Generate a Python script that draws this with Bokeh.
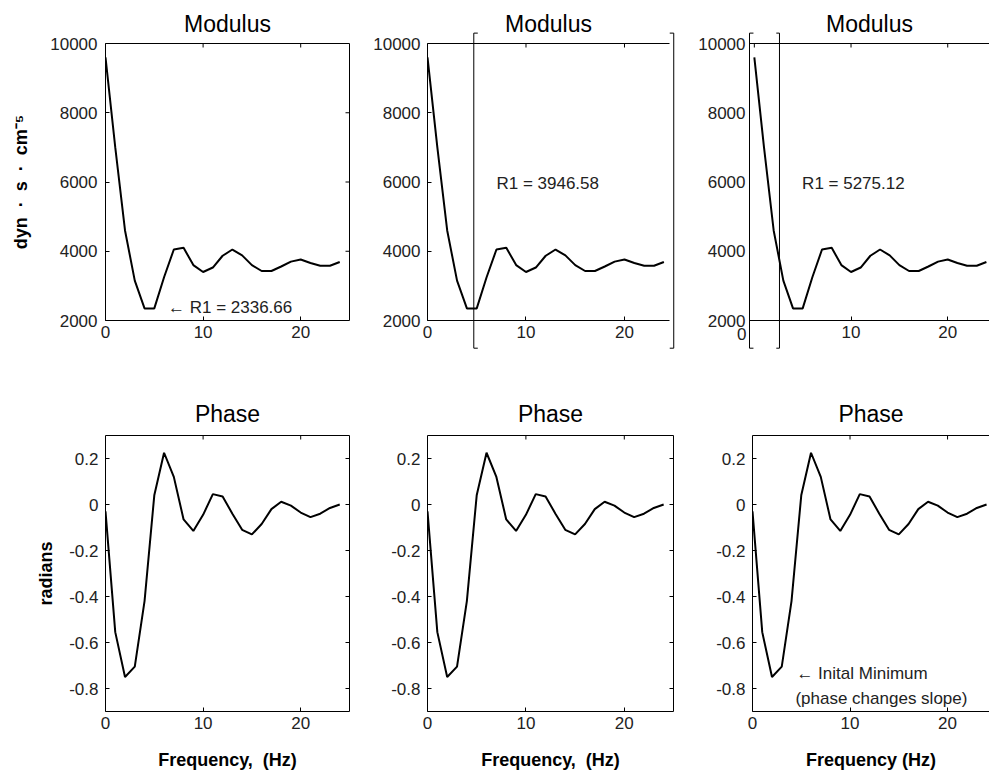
from bokeh.plotting import figure
from bokeh.layouts import column, row
from bokeh.models import LinearAxis, Range1d, FixedTicker
from bokeh.core.properties import value
from bokeh.embed import file_html
from bokeh.resources import INLINE

# ---------------- data ----------------
freq = [0, 1, 2, 3, 4, 5, 6, 7, 8, 9, 10, 11, 12, 13, 14, 15, 16, 17, 18, 19, 20, 21, 22, 23, 24]
modulus = [9600, 7000, 4600, 3150, 2350, 2350, 3250, 4050, 4100, 3600, 3400, 3530, 3870, 4050, 3880,
           3600, 3430, 3430, 3560, 3700, 3760, 3660, 3580, 3580, 3690]
phase = [-0.03, -0.555, -0.75, -0.705, -0.42, 0.04, 0.225, 0.12, -0.065, -0.115, -0.045, 0.045, 0.035,
         -0.04, -0.11, -0.13, -0.085, -0.02, 0.012, -0.005, -0.035, -0.055, -0.04, -0.015, 0.0]

mod_ticks = [2000, 4000, 6000, 8000, 10000]
mod_tick_labels = ["2000", "4000", "6000", "8000", "10000"]
phase_ticks = [-0.8, -0.6, -0.4, -0.2, 0, 0.2]
phase_tick_labels = ["-0.8", "-0.6", "-0.4", "-0.2", "0", "0.2"]
freq_ticks = [0, 10, 20]
freq_tick_labels = ["0", "10", "20"]

r1_labels = ["\u2190 R1 = 2336.66", "R1 = 3946.58", "R1 = 5275.12"]
mid_window = [4.7, 25.0]      # bracketed frequency window, middle panel
right_window = [-0.5, 2.6]    # bracketed frequency window, right panel
window_extent = [1200, 10300]  # vertical extent of the window brackets

NB = "\u00a0"
FONT = "Liberation Sans"
TICK_PX = 4


def style_axis(ax, ticks, labels, tick_in, standoff):
    ax.ticker = FixedTicker(ticks=ticks)
    ax.major_label_overrides = {t: l for t, l in zip(ticks, labels)}
    ax.minor_tick_line_color = None
    ax.major_tick_in = tick_in
    ax.major_tick_out = 0
    ax.axis_line_color = "black"
    ax.major_tick_line_color = "black"
    ax.major_label_text_font = FONT
    ax.major_label_text_color = "#222222"
    ax.major_label_text_font_size = "17px"
    ax.major_label_standoff = standoff
    ax.axis_label_text_font = FONT
    ax.axis_label_text_font_size = "18px"
    ax.axis_label_text_font_style = "bold"
    ax.axis_label_text_color = "black"


def make_panel(width, height, borders, xr, yr, yticks, ylabels, title,
               top=True, right=True, left_ticks=True, xticks=None, xlabels=None,
               ystandoff=6, title_standoff=14):
    lb, rb, tb, bb = borders
    p = figure(width=width, height=height, x_range=Range1d(*xr), y_range=Range1d(*yr),
               output_backend="svg", toolbar_location=None,
               x_axis_location=None, y_axis_location=None,
               min_border_left=lb, min_border_right=rb, min_border_top=tb, min_border_bottom=bb)
    p.outline_line_color = None
    p.grid.visible = False
    p.background_fill_color = "white"
    p.border_fill_color = "white"
    p.title.text = title
    p.title.align = "center"
    p.title.text_font = FONT
    p.title.text_font_size = "23px"
    p.title.text_font_style = "normal"
    p.title.text_color = "black"
    p.title.standoff = title_standoff

    xt = xticks if xticks is not None else freq_ticks
    xl = xlabels if xlabels is not None else freq_tick_labels

    bottom = LinearAxis()
    style_axis(bottom, xt, xl, TICK_PX, 5)
    p.add_layout(bottom, "below")
    leftax = LinearAxis()
    style_axis(leftax, yticks, ylabels, TICK_PX if left_ticks else 0, ystandoff)
    p.add_layout(leftax, "left")

    # box: top spine / right spine with inward ticks (drawn as plain segments)
    fw = width - lb - rb
    fh = height - tb - bb
    dx = (xr[1] - xr[0]) / fw * TICK_PX
    dy = (yr[1] - yr[0]) / fh * TICK_PX
    if top:
        p.segment(x0=[xr[0]], y0=[yr[1]], x1=[xr[1]], y1=[yr[1]],
                  line_color="black", line_width=1, level="overlay")
        tt = [t for t in freq_ticks if xr[0] < t < xr[1]]
        p.segment(x0=tt, y0=[yr[1]] * len(tt), x1=tt, y1=[yr[1] - dy] * len(tt),
                  line_color="black", line_width=1, level="overlay")
    if right:
        p.segment(x0=[xr[1]], y0=[yr[0]], x1=[xr[1]], y1=[yr[1]],
                  line_color="black", line_width=1, level="overlay")
        rt = [t for t in yticks if yr[0] < t < yr[1]]
        p.segment(x0=[xr[1]] * len(rt), y0=rt, x1=[xr[1] - dx] * len(rt), y1=rt,
                  line_color="black", line_width=1, level="overlay")
    return p, bottom, leftax, dx


def bracket(p, x, y0, y1, dx):
    p.segment(x0=[x, x, x], y0=[y0, y1, y0], x1=[x, x + dx, x + dx], y1=[y1, y1, y0],
              line_color="black", line_width=1, level="overlay")


def note(p, x, y, text):
    p.text(x=[x], y=[y], text=[text], text_font=value(FONT), text_font_size="17px",
           text_color="#222222", text_baseline="middle", text_align="left", level="overlay")


# ---------------- top row: modulus ----------------
p1, b1, l1, _ = make_panel(370, 370, (105, 21, 43, 50), (0, 25), (2000, 10000),
                           mod_ticks, mod_tick_labels, "Modulus", ystandoff=8)
l1.axis_label = "dyn" + NB * 2 + "\u00b7" + NB * 2 + "s" + NB * 2 + "\u00b7" + NB * 2 + "cm\u207b\u2075"
l1.axis_label_standoff = 16
p1.line(freq, modulus, line_color="black", line_width=2)
note(p1, 6.4, 2380, r1_labels[0])

p2, b2, l2, dx2 = make_panel(325, 370, (57, 26, 43, 50), (0, 24.57), (2000, 10000),
                             mod_ticks, mod_tick_labels, "Modulus", right=False, ystandoff=7)
p2.line(freq, modulus, line_color="black", line_width=2)
bracket(p2, mid_window[0], window_extent[0], window_extent[1], dx2)
bracket(p2, mid_window[1], window_extent[0], window_extent[1], -dx2)
note(p2, 7.0, 5960, r1_labels[1])

p3, b3, l3, dx3 = make_panel(294, 370, (52, 0, 43, 50), (-0.5, 24.32), (2000, 10000),
                             mod_ticks, mod_tick_labels, "Modulus", right=False, left_ticks=False,
                             xticks=freq_ticks[1:], xlabels=freq_tick_labels[1:], ystandoff=4)
p3.line(freq, modulus, line_color="black", line_width=2)
bracket(p3, right_window[0], window_extent[0], window_extent[1], dx3)
bracket(p3, right_window[1], window_extent[0], window_extent[1], -0.8 * dx3)
note(p3, 4.94, 5960, r1_labels[2])
p3.text(x=[right_window[0]], y=[mod_ticks[0]], text=[freq_tick_labels[0]], text_font=value(FONT),
        text_font_size="17px", text_color="#222222", text_align="right", text_baseline="top",
        x_offset=-3, y_offset=7, level="overlay")


# ---------------- bottom row: phase ----------------
def phase_panel(width, borders, xr, label, right=True, ylabel=None):
    p, b, l, _ = make_panel(width, 404, borders, xr, (-0.9, 0.3), phase_ticks, phase_tick_labels,
                            "Phase", right=right, ystandoff=7, title_standoff=17)
    b.axis_label = label
    b.axis_label_standoff = 18
    if ylabel:
        l.axis_label = ylabel
        l.axis_label_standoff = 10
    p.line(freq, phase, line_color="black", line_width=2)
    return p


p4 = phase_panel(370, (105, 21, 65, 63), (0, 25), "Frequency," + NB * 2 + "(Hz)", ylabel="radians")
p5 = phase_panel(325, (57, 22, 65, 63), (0, 25), "Frequency," + NB * 2 + "(Hz)")
p6 = phase_panel(294, (57, 0, 65, 63), (0, 24.3), "Frequency (Hz)", right=False)
note(p6, 4.5, -0.734, "\u2190 Inital Minimum")
note(p6, 4.4, -0.842, "(phase changes slope)")

layout = column(row(p1, p2, p3, spacing=0), row(p4, p5, p6, spacing=0), spacing=0)

with open("out.html", "w") as f:
    f.write(file_html(layout, INLINE))
